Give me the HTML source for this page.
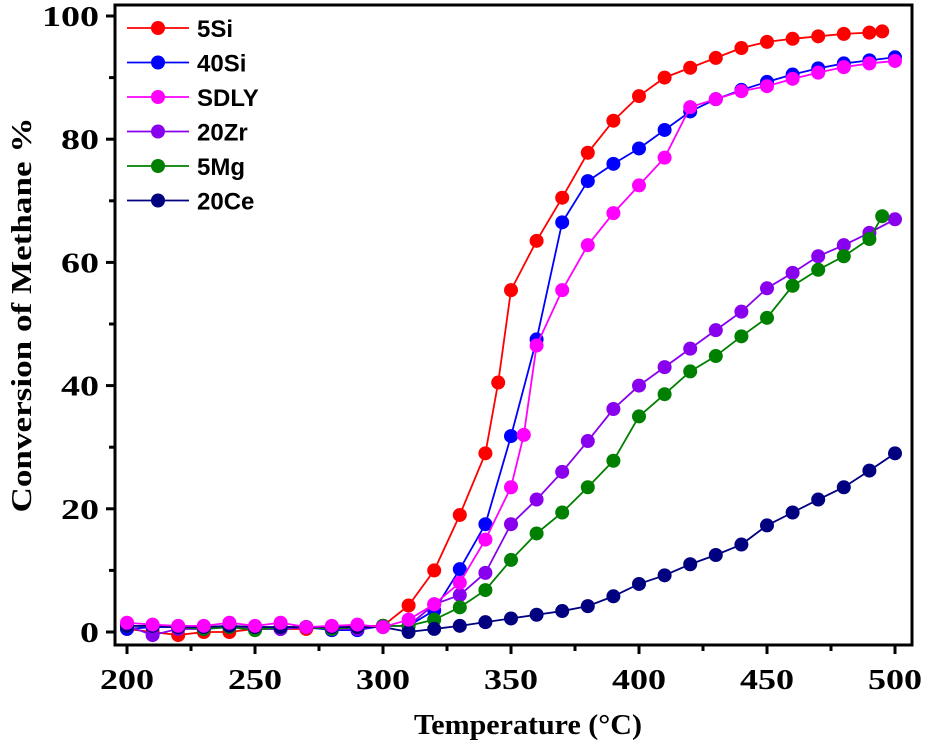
<!DOCTYPE html>
<html><head><meta charset="utf-8"><style>
body{margin:0;background:#fff;}
svg{display:block;}
</style></head><body>
<svg id="chart" width="926" height="750" xmlns="http://www.w3.org/2000/svg">
<g id="plot"></g>
</svg>
<script>
const xTicks=[200,250,300,350,400,450,500];
const yTicks=[0,20,40,60,80,100];
const seriesNames=["5Si","40Si","20Zr","5Mg","20Ce","SDLY"];
const seriesColors=["#ff0000","#0000ff","#8800ee","#008000","#000080","#ff00ff"];
const legendOrder=["5Si","40Si","SDLY","20Zr","5Mg","20Ce"];
const si5T=[200,210,220,230,240,250,260,270,280,290,300,310,320,330,340,345,350,360,370,380,390,400,410,420,430,440,450,460,470,480,490,495];
const si5V=[0.5,0,-0.5,0,0,0.5,0.5,0.5,0.8,1,1,4.3,10,19,29,40.5,55.5,63.5,70.5,77.8,83,87,90,91.6,93.2,94.8,95.8,96.3,96.7,97.1,97.3,97.5];
const si40T=[200,210,220,230,240,250,260,270,280,290,300,310,320,330,340,350,360,370,380,390,400,410,420,430,440,450,460,470,480,490,500];
const si40V=[0.5,0.8,0.8,0.5,0.8,0.5,0.5,0.8,0.3,0.3,1,1,3.5,10.2,17.5,31.8,47.5,66.5,73.2,76,78.5,81.5,84.5,86.5,88,89.3,90.5,91.5,92.3,92.8,93.3];
const sdlyT=[200,210,220,230,240,250,260,270,280,290,300,310,320,330,340,350,355,360,370,380,390,400,410,420,430,440,450,460,470,480,490,500];
const sdlyV=[1.5,1.2,1,1,1.5,1,1.5,0.8,1,1.2,0.8,2,4.5,8,15,23.5,32,46.5,55.5,62.8,68,72.5,77,85.2,86.5,87.8,88.6,89.8,90.8,91.7,92.3,92.7];
const zr20T=[200,210,220,230,240,250,260,270,280,290,300,310,320,330,340,350,360,370,380,390,400,410,420,430,440,450,460,470,480,490,500];
const zr20V=[1,-0.5,0.5,0.5,1,0.5,0.5,0.8,0.5,0.5,1,1,4.5,6,9.6,17.5,21.5,26,31,36.2,40,43,46,49,52,55.8,58.3,61,62.8,64.8,67];
const mg5T=[200,210,220,230,240,250,260,270,280,290,300,310,320,330,340,350,360,370,380,390,400,410,420,430,440,450,460,470,480,490,495];
const mg5V=[1,1,0.8,0.5,0.8,0.3,0.8,0.8,0.5,0.8,1,1,2,4,6.8,11.7,16,19.4,23.5,27.8,35,38.6,42.3,44.8,48,51,56.2,58.8,61,63.8,67.5];
const ce20T=[200,210,220,230,240,250,260,270,280,290,300,310,320,330,340,350,360,370,380,390,400,410,420,430,440,450,460,470,480,490,500];
const ce20V=[1,1,0.8,0.8,1,0.8,0.8,0.8,0.8,0.8,0.8,0,0.5,1,1.6,2.2,2.8,3.4,4.2,5.8,7.8,9.2,11,12.5,14.2,17.3,19.4,21.5,23.5,26.2,29];
const seriesT=[si5T,si40T,zr20T,mg5T,ce20T,sdlyT];
const seriesV=[si5V,si40V,zr20V,mg5V,ce20V,sdlyV];

const NS="http://www.w3.org/2000/svg";
const L=115,R=912,T=5,B=645;
const X0=127,X1=895,Y0=632,Y1=16;
const sx=v=>X0+(v-200)/300*(X1-X0);
const sy=v=>Y0+(v-0)/100*(Y1-Y0);
const svg=document.getElementById('chart');
function mk(tag,attrs,parent){const e=document.createElementNS(NS,tag);for(const k in attrs)e.setAttribute(k,attrs[k]);(parent||svg).appendChild(e);return e;}
const plot=document.getElementById('plot');

for(let s=0;s<seriesNames.length;s++){
  const g=mk('g',{},plot);
  
  
  const pts=seriesT[s].map((t,i)=>sx(t)+','+sy(seriesV[s][i])).join(' ');
  const pl=mk('polyline',{points:pts,fill:'none',stroke:seriesColors[s],'stroke-width':1.8},g);
  
  
  seriesT[s].forEach((t,i)=>{
    const c=mk('circle',{cx:sx(t),cy:sy(seriesV[s][i]),r:7,fill:seriesColors[s]},g);
    
    
  });
}

const fr=mk('rect',{x:L,y:T,width:R-L,height:B-T,fill:'none',stroke:'#000','stroke-width':3});



for(let v=200;v<=500;v+=25){
  const major=xTicks.includes(v);
  const tk=mk('line',{x1:sx(v),x2:sx(v),y1:B,y2:B+(major?9:6),stroke:'#000','stroke-width':3});
  
  
}
xTicks.forEach(v=>{
  const t=mk('text',{x:sx(v),y:689,'text-anchor':'middle','font-family':'Liberation Serif, serif','font-weight':'bold','font-size':29,textLength:54,lengthAdjust:'spacingAndGlyphs'});
  t.textContent=v;
  
  
});
for(let v=0;v<=100;v+=10){
  const major=yTicks.includes(v);
  const tk=mk('line',{x1:L,x2:L-(major?9:6),y1:sy(v),y2:sy(v),stroke:'#000','stroke-width':3});
  
  
}
yTicks.forEach(v=>{
  const len=String(v).length*19;
  const t=mk('text',{x:99,y:sy(v)+10,'text-anchor':'end','font-family':'Liberation Serif, serif','font-weight':'bold','font-size':29,textLength:len,lengthAdjust:'spacingAndGlyphs'});
  t.textContent=v;
  
  
});
const xt=mk('text',{x:528,y:734,'text-anchor':'middle','font-family':'Liberation Serif, serif','font-weight':'bold','font-size':28,textLength:228,lengthAdjust:'spacingAndGlyphs'});
xt.textContent='Temperature (°C)';


const yt=mk('text',{x:0,y:0,'text-anchor':'middle','font-family':'Liberation Serif, serif','font-weight':'bold','font-size':29,textLength:395,lengthAdjust:'spacingAndGlyphs',transform:'translate(31,315) rotate(-90)'});
yt.textContent='Conversion of Methane %';



const lg=mk('g',{});


legendOrder.forEach((n,i)=>{
  const s=seriesNames.indexOf(n);
  const y=28+i*34.5;
  const e=mk('g',{},lg);
  
  
  mk('line',{x1:127,x2:189,y1:y,y2:y,stroke:seriesColors[s],'stroke-width':1.8},e);
  mk('circle',{cx:158,cy:y,r:7,fill:seriesColors[s]},e);
  const t=mk('text',{x:197,y:y+9,'font-family':'Liberation Sans, sans-serif','font-weight':'bold','font-size':24},e);
  t.textContent=n;
});
</script>
</body></html>
